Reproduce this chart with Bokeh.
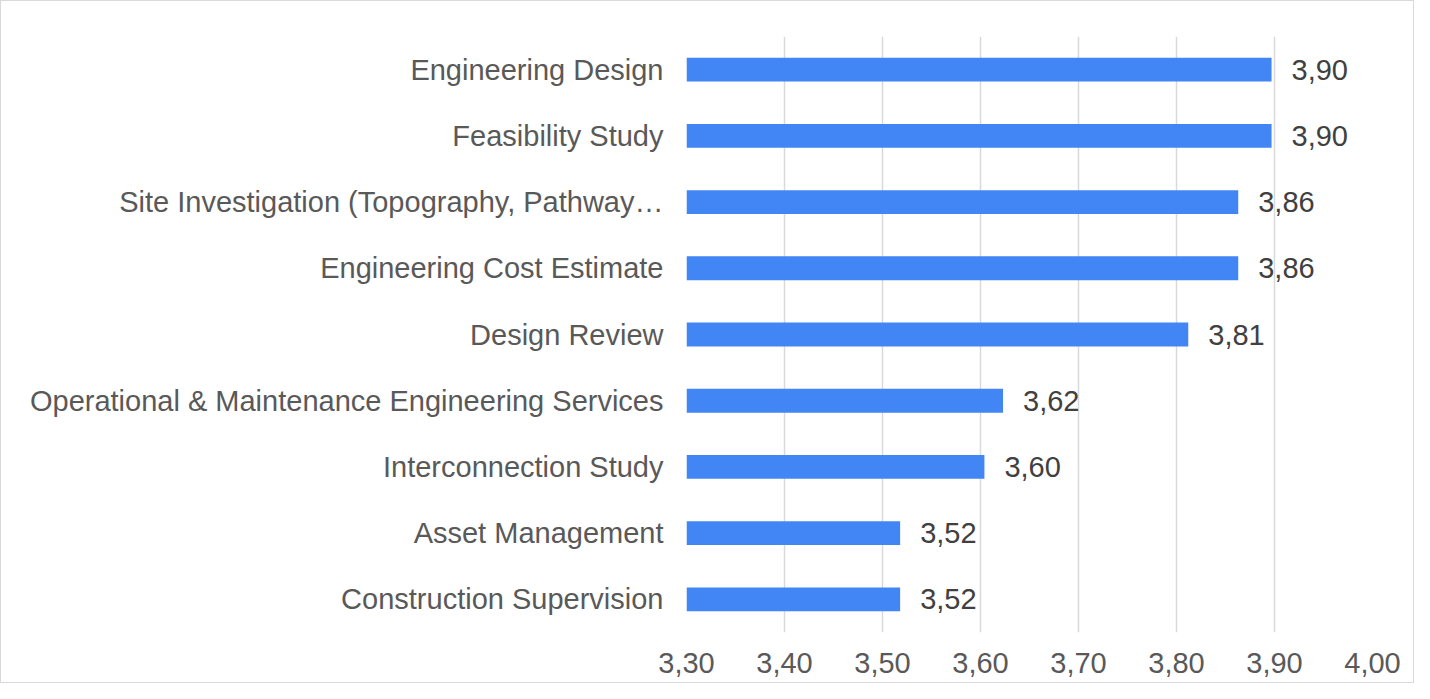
from bokeh.plotting import figure
from bokeh.models import FixedTicker, ColumnDataSource, Range1d
from bokeh.core.properties import value
from bokeh.embed import file_html
from bokeh.resources import INLINE

categories = [
    "Engineering Design",
    "Feasibility Study",
    "Site Investigation (Topography, Pathway\u2026",
    "Engineering Cost Estimate",
    "Design Review",
    "Operational & Maintenance Engineering Services",
    "Interconnection Study",
    "Asset Management",
    "Construction Supervision",
]
scores = [3.897, 3.897, 3.863, 3.863, 3.812, 3.623, 3.604, 3.518, 3.518]
x_ticks = [3.3, 3.4, 3.5, 3.6, 3.7, 3.8, 3.9, 4.0]
x_start, x_end = 3.30, 4.00

def comma(v):
    return f"{v:.2f}".replace(".", ",")

FONT = "Liberation Sans"
W, H = 1414, 683

p = figure(
    width=W, height=H,
    y_range=list(reversed(categories)),
    x_range=Range1d(x_start, x_end),
    output_backend="svg", toolbar_location=None,
    min_border_left=685, min_border_right=43,
    min_border_top=35, min_border_bottom=52,
)
p.styles = {"border": "1.5px solid #d9d9d9", "box-sizing": "border-box"}
p.outline_line_color = None
p.background_fill_color = "white"
p.border_fill_color = "white"

src = ColumnDataSource(dict(
    cat=categories,
    val=scores,
    left=[x_start] * len(scores),
    lab=[comma(v) for v in scores],
))

p.hbar(y="cat", left="left", right="val", height=0.36, source=src,
       fill_color="#4285f4", line_color=None)

p.text(x="val", y="cat", text="lab", source=src, x_offset=20,
       text_align="left", text_baseline="middle",
       text_font=value(FONT), text_font_size="29px", text_color="#404040")

# x axis
p.xaxis.ticker = FixedTicker(ticks=x_ticks)
p.xaxis.major_label_overrides = {t: comma(t) for t in x_ticks}
p.xaxis.axis_line_color = None
p.xaxis.major_tick_line_color = None
p.xaxis.minor_tick_line_color = None
p.xaxis.major_label_text_font = FONT
p.xaxis.major_label_text_font_size = "29px"
p.xaxis.major_label_text_color = "#595959"
p.xaxis.major_label_standoff = 14

# y axis
p.yaxis.axis_line_color = None
p.yaxis.major_tick_line_color = None
p.yaxis.minor_tick_line_color = None
p.yaxis.major_label_text_font = FONT
p.yaxis.major_label_text_font_size = "29px"
p.yaxis.major_label_text_color = "#595959"
p.yaxis.major_label_standoff = 17

p.xgrid.grid_line_color = "#d9d9d9"
p.xgrid.grid_line_width = 1.5
p.ygrid.grid_line_color = None

open("out.html", "w").write(file_html(p, INLINE))
